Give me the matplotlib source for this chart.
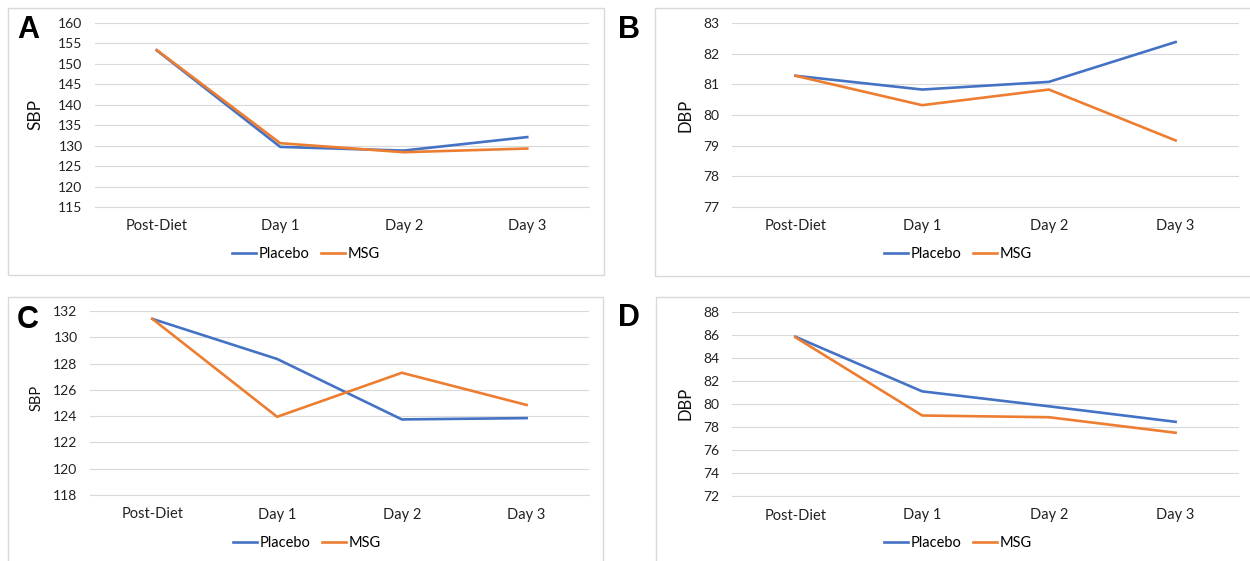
import matplotlib
matplotlib.use('Agg')
import matplotlib.pyplot as plt
from matplotlib.patches import Rectangle

plt.rcParams['font.family'] = ['Lato', 'DejaVu Sans']

# Data
days = ['Post-Diet', 'Day 1', 'Day 2', 'Day 3']

sbp_a_placebo = [153.3, 129.7, 128.8, 132.1]
sbp_a_msg = [153.4, 130.6, 128.4, 129.3]

dbp_b_placebo = [81.28, 80.83, 81.08, 82.38]
dbp_b_msg = [81.28, 80.32, 80.83, 79.17]

sbp_c_placebo = [131.4, 128.35, 123.75, 123.85]
sbp_c_msg = [131.4, 123.95, 127.3, 124.85]

dbp_d_placebo = [85.85, 81.1, 79.8, 78.45]
dbp_d_msg = [85.8, 79.0, 78.85, 77.5]

BLUE = '#4472C4'
ORANGE = '#ED7D31'
GRID = '#d9d9d9'
W, H = 1250, 561

fig = plt.figure(figsize=(W / 100, H / 100), dpi=100)


def px_axes(x0, y0, x1, y1):
    return fig.add_axes([x0 / W, 1 - y1 / H, (x1 - x0) / W, (y1 - y0) / H])


def box(x0, y0, x1, y1):
    fig.patches.append(Rectangle((x0 / W, 1 - y1 / H), (x1 - x0) / W, (y1 - y0) / H,
                                 transform=fig.transFigure, fill=False,
                                 edgecolor=GRID, linewidth=1.0))


panels = [
    # letter, data, ylabel, ylim, step, axes px, box px, letter pos, ylabel pos, legend pos, ylabel size
    ('A', sbp_a_placebo, sbp_a_msg, 'SBP', (115, 160), 5, (95, 23, 589, 207),
     (8, 8, 604, 275), (28, 30), (35, 115), (306, 254), 12.5),
    ('B', dbp_b_placebo, dbp_b_msg, 'DBP', (77, 83), 1, (732, 23, 1239, 207),
     (655, 8, 1262, 276), (629, 30), (685, 115), (958, 254), 12),
    ('C', sbp_c_placebo, sbp_c_msg, 'SBP', (118, 132), 2, (90, 311, 589, 495),
     (8, 297, 603, 570), (28, 320), (37, 398), (307, 543), 10.5),
    ('D', dbp_d_placebo, dbp_d_msg, 'DBP', (72, 88), 2, (732, 312, 1239, 496),
     (656, 297, 1262, 570), (629, 318), (686, 403), (958, 543), 12),
]

for (letter, placebo, msg, ylab, ylim, step, ax_px, box_px,
     let_pos, ylab_pos, leg_pos, ylab_size) in panels:
    box(*box_px)
    ax = px_axes(*ax_px)
    x = range(len(days))
    ax.plot(x, placebo, color=BLUE, lw=1.9, label='Placebo', solid_joinstyle='round')
    ax.plot(x, msg, color=ORANGE, lw=1.9, label='MSG', solid_joinstyle='round')
    ax.set_xlim(-0.5, len(days) - 0.5)
    ax.set_ylim(*ylim)
    ticks = list(range(ylim[0], ylim[1] + 1, step))
    ax.set_yticks(ticks)
    ax.set_xticks(list(x))
    ax.set_xticklabels(days, fontsize=10.5, color='#222222')
    ax.tick_params(axis='y', length=0, pad=9, labelsize=10, labelcolor='#222222')
    ax.tick_params(axis='x', length=0, pad=9)
    ax.grid(axis='y', color=GRID, lw=0.8)
    ax.set_axisbelow(True)
    for s in ax.spines.values():
        s.set_visible(False)
    ax.spines['bottom'].set_visible(True)
    ax.spines['bottom'].set_color(GRID)
    ax.spines['bottom'].set_linewidth(0.8)

    fig.text(let_pos[0] / W, 1 - let_pos[1] / H, letter, fontsize=22,
             fontweight='bold', family='Liberation Sans', ha='center', va='center')
    fig.text(ylab_pos[0] / W, 1 - ylab_pos[1] / H, ylab, fontsize=ylab_size,
             rotation=90, ha='center', va='center', color='#111111')
    fig.legend(*ax.get_legend_handles_labels(), loc='center',
               bbox_to_anchor=(leg_pos[0] / W, 1 - leg_pos[1] / H), ncol=2,
               frameon=False, fontsize=10.5, handlelength=1.6, handletextpad=0.2,
               columnspacing=0.8)

fig.savefig('out.png', dpi=100)
